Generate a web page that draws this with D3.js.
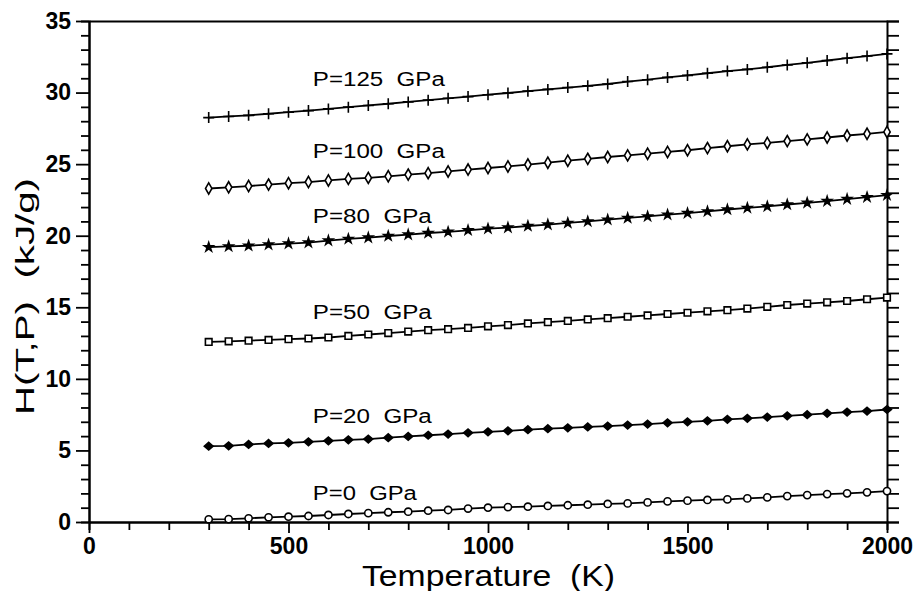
<!DOCTYPE html>
<html>
<head>
<meta charset="utf-8">
<script src="https://cdn.jsdelivr.net/npm/d3@7"></script>
<style>
  html, body { margin: 0; padding: 0; background: #fff; }
  svg { display: block; }
  text { font-family: "Liberation Sans", Arial, sans-serif; fill: #000; }
</style>
</head>
<body>
<svg id="chart" width="916" height="591"></svg>
<script>
// Temperatures (K) at which H(T,P) is tabulated
const temperatures = [300, 350, 400, 450, 500, 550, 600, 650, 700, 750, 800, 850, 900, 950,
  1000, 1050, 1100, 1150, 1200, 1250, 1300, 1350, 1400, 1450, 1500, 1550, 1600, 1650,
  1700, 1750, 1800, 1850, 1900, 1950, 2000];

// Enthalpy H(T,P) in kJ/g, one list per pressure
const h0 = [0.19, 0.20, 0.26, 0.33, 0.37, 0.42, 0.49, 0.56, 0.62, 0.68, 0.72, 0.79, 0.84, 0.94,
  1.00, 1.04, 1.07, 1.12, 1.17, 1.21, 1.26, 1.30, 1.37, 1.44, 1.49, 1.54, 1.58, 1.65,
  1.72, 1.81, 1.88, 1.95, 2.00, 2.07, 2.16];
const h20 = [5.30, 5.32, 5.42, 5.49, 5.53, 5.60, 5.67, 5.74, 5.79, 5.89, 5.98, 6.06, 6.14, 6.23,
  6.30, 6.37, 6.45, 6.52, 6.58, 6.64, 6.70, 6.77, 6.84, 6.93, 7.00, 7.07, 7.17, 7.24,
  7.33, 7.42, 7.50, 7.59, 7.68, 7.75, 7.86];
const h50 = [12.58, 12.62, 12.67, 12.72, 12.77, 12.82, 12.89, 13.00, 13.10, 13.20, 13.30, 13.40, 13.47, 13.56,
  13.67, 13.76, 13.87, 13.96, 14.05, 14.15, 14.24, 14.34, 14.43, 14.53, 14.62, 14.72, 14.80, 14.91,
  15.03, 15.16, 15.26, 15.35, 15.44, 15.56, 15.68];
const h80 = [19.20, 19.25, 19.30, 19.38, 19.45, 19.52, 19.66, 19.78, 19.87, 19.98, 20.08, 20.19, 20.27, 20.38,
  20.49, 20.57, 20.68, 20.78, 20.89, 21.00, 21.12, 21.24, 21.35, 21.47, 21.58, 21.70, 21.83, 21.94,
  22.05, 22.18, 22.30, 22.42, 22.56, 22.69, 22.83];
const h100 = [23.30, 23.38, 23.47, 23.57, 23.67, 23.75, 23.86, 23.97, 24.04, 24.15, 24.27, 24.37, 24.49, 24.62,
  24.73, 24.84, 24.97, 25.10, 25.24, 25.37, 25.50, 25.61, 25.73, 25.85, 25.97, 26.12, 26.25, 26.38,
  26.48, 26.61, 26.73, 26.86, 27.00, 27.12, 27.25];
const h125 = [28.25, 28.33, 28.41, 28.52, 28.63, 28.74, 28.86, 28.98, 29.10, 29.22, 29.35, 29.47, 29.60, 29.72,
  29.85, 29.97, 30.10, 30.22, 30.35, 30.47, 30.60, 30.77, 30.90, 31.06, 31.20, 31.35, 31.50, 31.62,
  31.77, 31.93, 32.08, 32.24, 32.40, 32.55, 32.70];

const seriesLabels = ["P=0  GPa", "P=20  GPa", "P=50  GPa", "P=80  GPa", "P=100  GPa", "P=125  GPa"];
const seriesValues = [h0, h20, h50, h80, h100, h125];
const seriesMarkers = ["circle", "diamondFill", "square", "star", "diamond", "plus"];
// Where each curve's label sits: [temperature at text start, H at text baseline]
const labelAnchors = [[561, 1.54], [561, 6.94], [561, 14.18], [561, 20.89], [561, 25.43], [561, 30.46]];

const xTicks = [0, 500, 1000, 1500, 2000];
const yTicks = [0, 5, 10, 15, 20, 25, 30, 35];

const svg = d3.select("#chart");
const x = d3.scaleLinear().domain([0, 2000]).range([89, 887]);
const y = d3.scaleLinear().domain([0, 35]).range([522, 21]);

// Frame and axes
const gBottom = svg.append("g").attr("transform", `translate(0,${y(0)})`);
gBottom.call(d3.axisBottom(x).tickValues(d3.range(0, 2001, 100)).tickSize(8).tickFormat(""));
gBottom.call(g => g.selectAll(".tick").filter(d => d % 500 === 0).select("line").attr("y2", 11));
gBottom.append("g").call(d3.axisBottom(x).tickValues(xTicks).tickSize(0).tickPadding(16)
  .tickFormat(d3.format("d")));

const gLeft = svg.append("g").attr("transform", `translate(${x(0)},0)`);
gLeft.call(d3.axisLeft(y).tickValues(d3.range(0, 36, 1)).tickSize(8).tickFormat(""));
gLeft.call(g => g.selectAll(".tick").filter(d => d % 5 === 0).select("line").attr("x2", -13));
gLeft.append("g").call(d3.axisLeft(y).tickValues(yTicks).tickSize(0).tickPadding(18)
  .tickFormat(d3.format("d")));

const gRight = svg.append("g").attr("transform", `translate(${x(2000)},0)`);
gRight.call(d3.axisRight(y).tickValues(d3.range(0, 36, 1)).tickSize(12).tickFormat(""));

const gTop = svg.append("g").attr("transform", `translate(0,${y(35)})`);
gTop.call(d3.axisTop(x).tickValues([]).tickSizeOuter(0));

svg.selectAll(".domain").attr("stroke", "#000").attr("stroke-width", 2);
svg.selectAll(".tick line").attr("stroke", "#000").attr("stroke-width", 1.8);
svg.selectAll(".tick text").attr("font-size", 23).attr("font-weight", "bold")
  .attr("font-family", "'Liberation Sans', Arial, sans-serif");

// Axis titles
svg.append("text")
  .attr("x", 362).attr("y", 586)
  .attr("font-size", 29)
  .attr("textLength", 253).attr("lengthAdjust", "spacingAndGlyphs")
  .style("white-space", "pre")
  .text("Temperature  (K)");
svg.append("text")
  .attr("transform", "translate(34,415) rotate(-90)")
  .attr("font-size", 26)
  .attr("textLength", 237).attr("lengthAdjust", "spacingAndGlyphs")
  .style("white-space", "pre")
  .text("H(T,P)  (kJ/g)");

// Marker shapes
const markerPath = {
  circle: "M-3.6,0a3.6,3.6 0 1,0 7.2,0a3.6,3.6 0 1,0 -7.2,0Z",
  diamondFill: "M0,-3.8L4.4,0L0,3.8L-4.4,0Z",
  square: "M-3.3,-3.3H3.3V3.3H-3.3Z",
  star: d3.symbol(d3.symbolStar, 24)(),
  diamond: "M0,-5.6L3.2,0L0,5.6L-3.2,0Z",
  plus: "M-5.5,0H5.5M0,-5.5V5.5"
};
const markerFill = { circle: "#fff", diamondFill: "#000", square: "#fff", star: "#000", diamond: "#fff", plus: "none" };

const labelWidths = [104, 119, 119, 119, 132, 132];

const line = d3.line().x((d, i) => x(temperatures[i])).y(d => y(d));

seriesValues.forEach((vals, k) => {
  const g = svg.append("g");
  g.append("path").datum(vals).attr("d", line)
    .attr("fill", "none").attr("stroke", "#000").attr("stroke-width", 1.8);
  const m = seriesMarkers[k];
  g.selectAll("path.mk").data(vals).join("path").attr("class", "mk")
    .attr("transform", (d, i) => `translate(${x(temperatures[i])},${y(d)})`)
    .attr("d", markerPath[m])
    .attr("fill", markerFill[m]).attr("stroke", "#000").attr("stroke-width", 1.6);
  g.append("text")
    .attr("x", x(labelAnchors[k][0])).attr("y", y(labelAnchors[k][1]))
    .attr("font-size", 20)
    .attr("textLength", labelWidths[k]).attr("lengthAdjust", "spacingAndGlyphs")
    .style("white-space", "pre")
    .text(seriesLabels[k]);
});
</script>
</body>
</html>
